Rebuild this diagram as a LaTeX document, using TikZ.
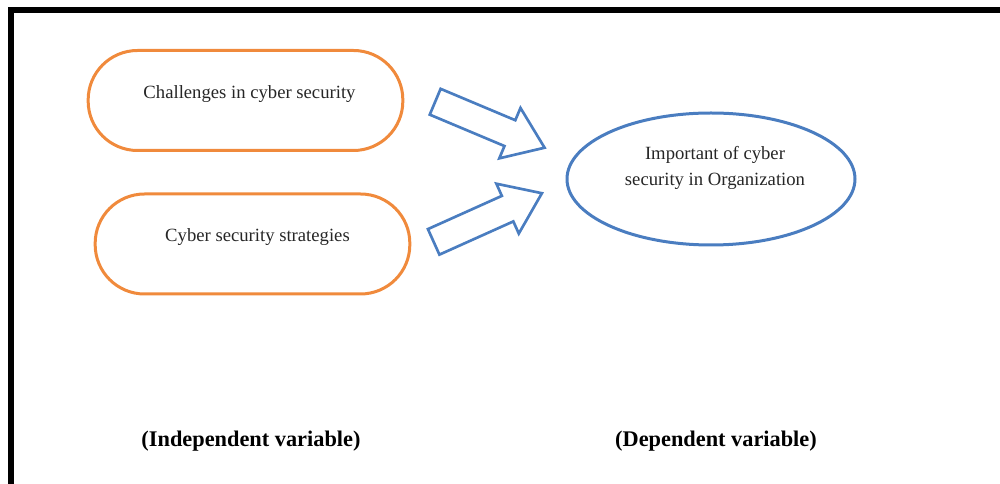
\documentclass[tikz,border=0pt]{standalone}
\usepackage{fontspec}
\setmainfont{Liberation Serif}
\usetikzlibrary{shapes.geometric,shapes.arrows}
\definecolor{boxorange}{HTML}{F08A3C}
\definecolor{ovalblue}{HTML}{4A7DC0}

\begin{document}
\begin{tikzpicture}[x=0.75pt,y=-0.75pt]
	\useasboundingbox (0,0) rectangle (1000,484);
	% frame
	\draw[line width=4.5pt] (11,484) -- (11,10) -- (1000,10);
	
	\begin{scope}[every node/.style={rectangle,draw=boxorange,line width=2.25pt,rounded corners=37pt,minimum width=236pt,minimum height=75pt}]
		\node (chal) at (245.5,100.5) {};
		\node (strat) at (252.5,244) {};
	\end{scope}
	
	\node[ellipse,draw=ovalblue,line width=2.25pt,minimum width=216pt,minimum height=99pt] (imp) at (711,179) {};
	
	\begin{scope}[every node/.style={single arrow,draw=ovalblue,line width=2pt,minimum height=89pt,inner xsep=0pt,inner ysep=9.5pt,single arrow head extend=10pt,single arrow tip angle=72}]
		\node[rotate=-22.8] (arrA) at (481,121) {};
		\node[rotate=24.2] (arrB) at (479,221.5) {};
	\end{scope}
	
	\begin{scope}[every node/.style={font=\fontsize{14}{19.5}\selectfont,align=center,text=black!85}]
		\node (chaltext) at (249.5,94.5) {Challenges in cyber security};
		\node (strattext) at (257.5,237) {Cyber security strategies};
		\node (imptext) at (715,168) {Important of cyber\\security in Organization};
	\end{scope}
	
	\begin{scope}[every node/.style={font=\fontsize{16.75}{20}\selectfont\bfseries}]
		\node (indep) at (251,441) {(Independent variable)};
		\node (dep) at (716,441) {(Dependent variable)};
	\end{scope}
\end{tikzpicture}
\end{document}
